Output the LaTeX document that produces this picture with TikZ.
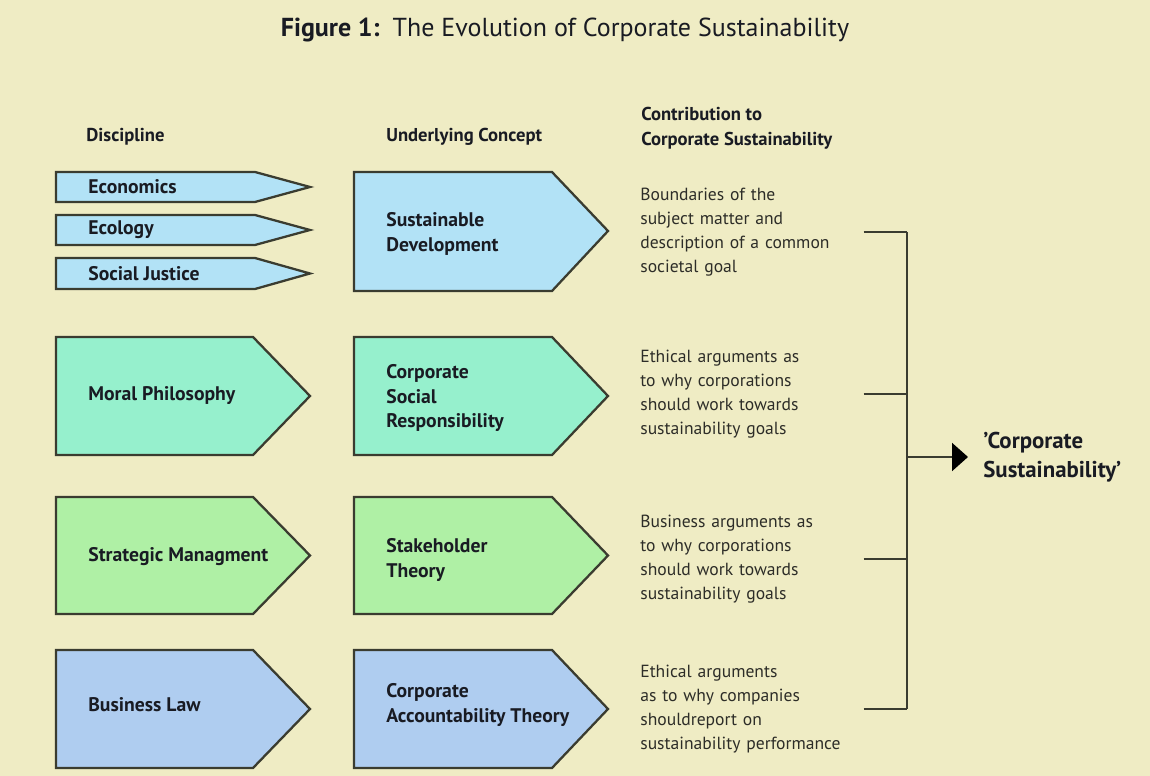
\documentclass[tikz,border=0pt]{standalone}
\usepackage{fontspec}
\setmainfont{PT Sans}
\usetikzlibrary{arrows.meta}
\definecolor{paper}{RGB}{239,236,196}
\definecolor{skyblue}{RGB}{178,226,246}
\definecolor{aqua}{RGB}{150,240,205}
\definecolor{mint}{RGB}{175,240,165}
\definecolor{periwinkle}{RGB}{175,205,240}
\definecolor{rim}{RGB}{58,60,48}
\definecolor{ink}{RGB}{25,27,35}
\definecolor{greyink}{RGB}{45,45,40}
\tikzset{
		rimStyle/.style = 	{draw=rim, line width=1.3pt, line join=miter},
		boxText/.style = 	{anchor=west, align=left, inner sep=0pt, text=ink, font=\bfseries\fontsize{11.2}{14}\selectfont},
		head/.style = 		{anchor=west, align=left, inner sep=0pt, text=ink, font=\bfseries\fontsize{10.6}{14}\selectfont},
		contrib/.style = 	{anchor=west, align=left, inner sep=0pt, text width=4.46cm, text=greyink, font=\fontsize{10}{13.6}\selectfont},
		bracket/.style = 	{draw=rim, line width=1.2pt}
}

\begin{document}
\begin{tikzpicture}[x=0.02cm, y=-0.02cm]
  \fill[paper] (0,0) rectangle (1150,776);
  \useasboundingbox (0,0) rectangle (1150,776);

  \node[inner sep=0pt, text=ink, font=\fontsize{14.8}{17}\selectfont] (title) at (565,30)
    {\textbf{Figure 1:}\enspace The Evolution of Corporate Sustainability};

  % column heads
  \node[head] (hdisc) at (86,137) {Discipline};
  \node[head] (hconc) at (386,137) {Underlying Concept};
  \node[head] (hcont) at (641,128) {Contribution to\\Corporate Sustainability};

  % arrow shapes
  \foreach \t/\b in {172/202, 215/245, 258/289}
    \draw[rimStyle, fill=skyblue] (56,\t) -- (255,\t) -- (310,{(\t+\b)/2}) -- (255,\b) -- (56,\b) -- cycle;
  \draw[rimStyle, fill=skyblue] (354,172) -- (552,172) -- (608,231) -- (552,291) -- (354,291) -- cycle;
  \foreach \t/\b/\c in {337/455/aqua, 497/614/mint, 650/768/periwinkle}
    {\draw[rimStyle, fill=\c] (56,\t) -- (253,\t) -- (310,{(\t+\b)/2}) -- (253,\b) -- (56,\b) -- cycle;
     \draw[rimStyle, fill=\c] (354,\t) -- (552,\t) -- (608,{(\t+\b)/2}) -- (552,\b) -- (354,\b) -- cycle;}

  \node[boxText] (econ) at (88,187) {Economics};
  \node[boxText] (ecol) at (88,230) {Ecology};
  \node[boxText] (socj) at (88,274) {Social Justice};
  \node[boxText] (sd)   at (386,234) {Sustainable\\Development};
  \node[boxText] (mp)   at (88,396) {Moral Philosophy};
  \node[boxText] (csr)  at (386,398) {Corporate\\Social\\Responsibility};
  \node[boxText] (sm)   at (88,557) {Strategic Managment};
  \node[boxText] (sht)  at (386,560) {Stakeholder\\Theory};
  \node[boxText] (bl)   at (88,705) {Business Law};
  \node[boxText] (cat)  at (386,705) {Corporate\\Accountability Theory};

  % contributions
  \node[contrib] (c1) at (640,232) {Boundaries of the\\subject matter and\\description of a common\\societal goal};
  \node[contrib] (c2) at (640,394) {Ethical arguments as\\to why corporations\\should work towards\\sustainability goals};
  \node[contrib] (c3) at (640,559) {Business arguments as\\to why corporations\\should work towards\\sustainability goals};
  \node[contrib] (c4) at (640,709) {Ethical arguments\\as to why companies\\shouldreport on\\sustainability performance};

  \node[inner sep=0pt, anchor=west, align=left, text=ink, font=\bfseries\fontsize{13}{16.5}\selectfont] (cs) at (983,457)
    {'Corporate\\Sustainability'};

  \coordinate (spine) at (907,0);
  \foreach \i in {1,...,4}
    \draw[bracket] (c\i.east) -- (c\i.east -| spine);
  \draw[bracket] (c1.east -| spine) -- (c4.east -| spine);
  \draw[bracket, -{Triangle[length=3.2mm, width=5.6mm, color=black]}, shorten >=0.3cm] (cs.west -| spine) -- (cs.west);

\end{tikzpicture}
\end{document}
